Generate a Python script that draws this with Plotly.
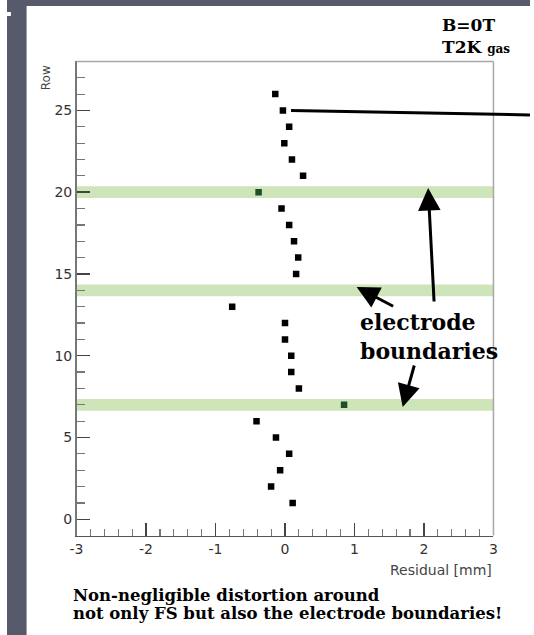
import plotly.graph_objects as go

W, H = 534, 635

# ---- data ----
rows = [26, 25, 24, 23, 22, 21, 20, 19, 18, 17, 16, 15, 13, 12, 11, 10, 9, 8, 7, 6, 5, 4, 3, 2, 1]
residuals = [-0.14, -0.03, 0.06, -0.01, 0.10, 0.26, -0.38, -0.05, 0.06, 0.13, 0.19, 0.16,
             -0.76, 0.00, 0.00, 0.09, 0.09, 0.20, 0.85, -0.41, -0.13, 0.06, -0.07, -0.20, 0.11]
boundary_rows = [7, 14, 20]
x_ticks = [-3, -2, -1, 0, 1, 2, 3]
x_tick_labels = ["-3", "-2", "-1", "0", "1", "2", "3"]
y_ticks = [0, 5, 10, 15, 20, 25]
y_tick_labels = ["0", "5", "10", "15", "20", "25"]

def px(x):
    return x / W

def py(y):
    return 1 - y / H

colors = ["#1f4d2a" if r in boundary_rows else "black" for r in rows]

fig = go.Figure()
fig.add_trace(go.Scatter(x=residuals, y=rows, mode="markers",
                         marker=dict(symbol="square", size=6.5, color=colors, line=dict(width=0)),
                         hoverinfo="skip", showlegend=False))

shapes = []
# background strips
shapes.append(dict(type="rect", xref="paper", yref="paper", x0=0, x1=px(20), y0=0, y1=1,
                   fillcolor="#575a6b", line=dict(width=0), layer="below"))
shapes.append(dict(type="rect", xref="paper", yref="paper", x0=0, x1=1, y0=py(6), y1=1,
                   fillcolor="#575a6b", line=dict(width=0), layer="below"))
shapes.append(dict(type="rect", xref="paper", yref="paper", x0=0, x1=px(4), y0=py(16), y1=py(12),
                   fillcolor="white", line=dict(width=0), layer="below"))
# electrode boundary bands
for b in boundary_rows:
    shapes.append(dict(type="rect", xref="x domain", yref="y", x0=0, x1=1, y0=b - 0.36, y1=b + 0.36,
                       fillcolor="#cde5b8", line=dict(width=0), layer="below"))
# top/right frame
shapes.append(dict(type="line", xref="x domain", yref="y domain", x0=0, x1=1, y0=1, y1=1,
                   line=dict(color="#a8a8a8", width=1.5)))
shapes.append(dict(type="line", xref="x domain", yref="y domain", x0=1, x1=1, y0=0, y1=1,
                   line=dict(color="#a8a8a8", width=1.5)))
# long pointer line from row 25
shapes.append(dict(type="line", xref="paper", yref="paper", x0=px(290), y0=py(110.5),
                   x1=px(534), y1=py(115), line=dict(color="black", width=3)))

serif = "DejaVu Serif"
sans = "DejaVu Sans"
annotations = [
    dict(text="<b>B=0T</b>", x=px(442), y=py(25), xref="paper", yref="paper", showarrow=False,
         xanchor="left", yanchor="middle", font=dict(family=serif, size=17, color="black")),
    dict(text="<b>T2K <span style='font-size:12px'>gas</span></b>", x=px(442), y=py(47),
         xref="paper", yref="paper", showarrow=False, xanchor="left", yanchor="middle",
         font=dict(family=serif, size=17, color="black")),
    dict(text="Row", x=px(40), y=py(78), xref="paper", yref="paper", showarrow=False,
         textangle=-90, xanchor="center", yanchor="middle",
         font=dict(family=sans, size=12, color="#444")),
    dict(text="Residual [mm]", x=px(497), y=py(570), xref="paper", yref="paper", showarrow=False,
         xanchor="right", yanchor="middle", font=dict(family=sans, size=14, color="#444")),
    dict(text="<b>electrode</b>", x=px(358), y=py(322), xref="paper", yref="paper", showarrow=False,
         xanchor="left", yanchor="middle", font=dict(family=serif, size=22, color="black")),
    dict(text="<b>boundaries</b>", x=px(358), y=py(351), xref="paper", yref="paper", showarrow=False,
         xanchor="left", yanchor="middle", font=dict(family=serif, size=22, color="black")),
    dict(text="<b>Non-negligible distortion around</b>",
         x=px(65), y=py(595), xref="paper", yref="paper", showarrow=False,
         xanchor="left", yanchor="middle", font=dict(family=serif, size=16.5, color="black")),
    dict(text="<b>not only FS but also the electrode boundaries!</b>",
         x=px(65), y=py(613), xref="paper", yref="paper", showarrow=False,
         xanchor="left", yanchor="middle", font=dict(family=serif, size=16.5, color="black")),
]

def arrow(tail, tip):
    return dict(x=px(tip[0]), y=py(tip[1]), xref="paper", yref="paper",
                ax=tail[0] - tip[0], ay=tail[1] - tip[1], axref="pixel", ayref="pixel",
                showarrow=True, arrowhead=2, arrowsize=1.5, arrowwidth=3, arrowcolor="black", text="")

annotations += [arrow((436, 303), (430, 188)),
                arrow((395, 307), (357, 287)),
                arrow((416, 364), (404, 407))]

fig.update_layout(
    width=W, height=H, margin=dict(l=0, r=0, t=0, b=0),
    paper_bgcolor="white", plot_bgcolor="white",
    shapes=shapes, annotations=annotations,
    xaxis=dict(domain=[px(71), px(496.7)], range=[-3, 3], tickvals=x_ticks, ticktext=x_tick_labels,
               ticks="inside", ticklen=13, tickwidth=1.5, tickcolor="#444",
               minor=dict(dtick=0.2, ticks="inside", ticklen=7, tickwidth=1.2, tickcolor="#777"),
               showgrid=False, zeroline=False, showline=True, linecolor="#555", linewidth=1.5,
               tickfont=dict(family=sans, size=14, color="#333")),
    yaxis=dict(domain=[py(535.6), py(61.4)], range=[-1, 28], tickvals=y_ticks, ticktext=y_tick_labels,
               ticks="inside", ticklen=13, tickwidth=1.5, tickcolor="#444",
               minor=dict(dtick=1, ticks="inside", ticklen=8, tickwidth=1.2, tickcolor="#777"),
               showgrid=False, zeroline=False, showline=True, linecolor="#777", linewidth=1.5,
               tickfont=dict(family=sans, size=14, color="#333")),
)

fig.write_html("out.html", config={"displayModeBar": False, "staticPlot": True},
               post_script=("document.documentElement.style.margin='0';"
                            "document.documentElement.style.overflow='hidden';"
                            "document.body.style.margin='0';"
                            "document.body.style.overflow='hidden';"))
